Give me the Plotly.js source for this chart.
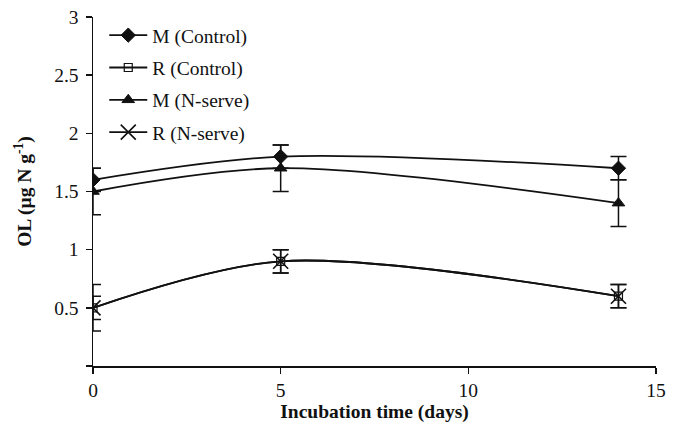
<!DOCTYPE html>
<html>
<head>
<meta charset="utf-8">
<script src="https://cdn.plot.ly/plotly-3.0.1.min.js"></script>
<style>html,body{margin:0;padding:0;background:#fff;}#chart{width:683px;height:427px;}</style>
</head>
<body>
<div id="chart"></div>
<script>
const days = [0, 5, 14];
const seriesNames = ["M (Control)", "R (Control)", "M (N-serve)", "R (N-serve)"];
const mControl = [1.6, 1.8, 1.7];
const mControlErr = [0.1, 0.1, 0.1];
const rControl = [0.5, 0.9, 0.6];
const rControlErr = [0.1, 0.1, 0.1];
const mNserve = [1.5, 1.7, 1.4];
const mNserveErr = [0.2, 0.2, 0.2];
const rNserve = [0.5, 0.9, 0.6];
const rNserveErr = [0.2, 0.1, 0.1];
const yTickVals = [0, 0.5, 1, 1.5, 2, 2.5, 3];
const yTickText = ["", "0.5", "1", "1.5", "2", "2.5", "3"];
const xTickVals = [0, 5, 10, 15];

const font = "Liberation Serif, Times New Roman, serif";
const fs = 19.5;
const markers = [
  {symbol: "diamond", size: 11, color: "#111", line: {color: "#111", width: 1}},
  {symbol: "square-open", size: 8, color: "#111", line: {color: "#111", width: 1.2}},
  {symbol: "triangle-up", size: 11, color: "#111", line: {color: "#111", width: 1}},
  {symbol: "x-thin-open", size: 15, color: "#111", line: {color: "#111", width: 1.6}}
];
const ys = [mControl, rControl, mNserve, rNserve];
const errs = [mControlErr, rControlErr, mNserveErr, rNserveErr];

const traces = ys.map((y, i) => ({
  x: days, y: y, name: seriesNames[i], type: "scatter", mode: "lines+markers",
  line: {color: "#111", width: 1.8, shape: "spline", smoothing: 0.9},
  marker: markers[i],
  legendgroup: "g" + i,
  error_y: {type: "data", array: errs[i], visible: true, color: "#111", thickness: 1.5, width: 8}
}));

const layout = {
  width: 683, height: 427,
  margin: {l: 93, r: 27, t: 17, b: 61},
  paper_bgcolor: "#fff", plot_bgcolor: "#fff",
  font: {family: font, size: fs, color: "#111"},
  showlegend: true,
  legend: {x: 0.02, y: 1.003, xanchor: "left", yanchor: "top", bgcolor: "rgba(0,0,0,0)",
           font: {family: font, size: fs, color: "#111"}, traceorder: "grouped", tracegroupgap: 4,
           itemwidth: 38},
  xaxis: {range: [0, 15], tickvals: xTickVals, showgrid: false, zeroline: false,
          showline: true, linecolor: "#111", linewidth: 1.5, ticks: "outside", ticklen: 6,
          tickcolor: "#111", tickwidth: 1.5,
          tickfont: {family: font, size: fs, color: "#111"},
          title: {text: "<b>Incubation time (days)</b>", font: {family: font, size: fs, color: "#111"}, standoff: 1}},
  yaxis: {range: [0, 3], tickvals: yTickVals, ticktext: yTickText, showgrid: false, zeroline: false,
          showline: true, linecolor: "#111", linewidth: 1.5, ticks: "outside", ticklen: 6,
          tickcolor: "#111", tickwidth: 1.5, ticklabelstandoff: 3,
          tickfont: {family: font, size: fs, color: "#111"},
          title: {text: "<b>OL (μg N g<sup>-1</sup>)</b>", font: {family: font, size: fs, color: "#111"}, standoff: 17}}
};

Plotly.newPlot("chart", traces, layout, {displayModeBar: false, staticPlot: true});
</script>
</body>
</html>
